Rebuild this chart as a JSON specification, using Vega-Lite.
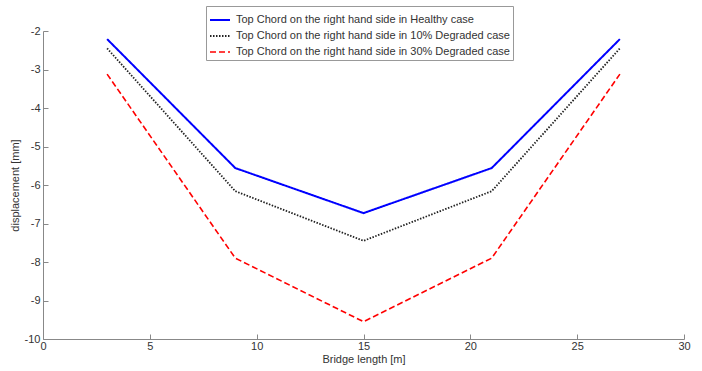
{
  "$schema": "https://vega.github.io/schema/vega-lite/v6.json",
  "autosize": {"type": "none"},
  "width": 641,
  "height": 308,
  "padding": {"left": 43, "top": 31, "right": 18, "bottom": 32},
  "background": "white",
  "config": {
    "font": "Liberation Sans",
    "view": {"stroke": null},
    "axis": {
      "domainColor": "#888888",
      "tickColor": "#888888",
      "labelColor": "#333333",
      "titleColor": "#333333",
      "labelFontSize": 11,
      "titleFontSize": 11,
      "titleFontWeight": "normal",
      "grid": false,
      "tickSize": -5,
      "labelFont": "Liberation Sans",
      "titleFont": "Liberation Sans"
    }
  },
  "data": {
    "values": [
      {"x": 3, "y": -2.21, "case": "Top Chord on the right hand side in Healthy case"},
      {"x": 9, "y": -5.56, "case": "Top Chord on the right hand side in Healthy case"},
      {"x": 15, "y": -6.73, "case": "Top Chord on the right hand side in Healthy case"},
      {"x": 21, "y": -5.56, "case": "Top Chord on the right hand side in Healthy case"},
      {"x": 27, "y": -2.21, "case": "Top Chord on the right hand side in Healthy case"},
      {"x": 3, "y": -2.45, "case": "Top Chord on the right hand side in 10% Degraded case"},
      {"x": 9, "y": -6.16, "case": "Top Chord on the right hand side in 10% Degraded case"},
      {"x": 15, "y": -7.45, "case": "Top Chord on the right hand side in 10% Degraded case"},
      {"x": 21, "y": -6.16, "case": "Top Chord on the right hand side in 10% Degraded case"},
      {"x": 27, "y": -2.45, "case": "Top Chord on the right hand side in 10% Degraded case"},
      {"x": 3, "y": -3.12, "case": "Top Chord on the right hand side in 30% Degraded case"},
      {"x": 9, "y": -7.9, "case": "Top Chord on the right hand side in 30% Degraded case"},
      {"x": 15, "y": -9.55, "case": "Top Chord on the right hand side in 30% Degraded case"},
      {"x": 21, "y": -7.9, "case": "Top Chord on the right hand side in 30% Degraded case"},
      {"x": 27, "y": -3.12, "case": "Top Chord on the right hand side in 30% Degraded case"}
    ]
  },
  "mark": {"type": "line"},
  "encoding": {
    "x": {
      "field": "x", "type": "quantitative",
      "scale": {"domain": [0, 30], "nice": false, "zero": false},
      "axis": {"title": "Bridge length [m]", "values": [0, 5, 10, 15, 20, 25, 30], "labelPadding": 6, "titlePadding": 2, "labelFlush": false}
    },
    "y": {
      "field": "y", "type": "quantitative",
      "scale": {"domain": [-10, -2], "nice": false, "zero": false},
      "axis": {"title": "displacement [mm]", "values": [-10, -9, -8, -7, -6, -5, -4, -3, -2], "labelPadding": 8, "titlePadding": 4, "labelFlush": false, "labelExpr": "replace(datum.label, '−', '-')"}
    },
    "color": {
      "field": "case", "type": "nominal",
      "scale": {
        "domain": ["Top Chord on the right hand side in Healthy case", "Top Chord on the right hand side in 10% Degraded case", "Top Chord on the right hand side in 30% Degraded case"],
        "range": ["#0000ff", "#222222", "#ff0000"]
      },
      "legend": {
        "title": null,
        "orient": "none",
        "legendX": 163,
        "legendY": -25,
        "strokeColor": "#999999",
        "fillColor": "white",
        "padding": 3,
        "symbolType": "stroke",
        "symbolSize": 400,
        "rowPadding": -6,
        "labelFontSize": 11,
        "labelColor": "#333333",
        "labelFont": "Liberation Sans",
        "labelLimit": 400,
        "labelOffset": 5
      }
    },
    "strokeDash": {
      "field": "case", "type": "nominal",
      "scale": {
        "domain": ["Top Chord on the right hand side in Healthy case", "Top Chord on the right hand side in 10% Degraded case", "Top Chord on the right hand side in 30% Degraded case"],
        "range": [[1, 0], [1.5, 1.5], [6, 3]]
      },
      "legend": null
    },
    "strokeWidth": {
      "field": "case", "type": "nominal",
      "scale": {
        "domain": ["Top Chord on the right hand side in Healthy case", "Top Chord on the right hand side in 10% Degraded case", "Top Chord on the right hand side in 30% Degraded case"],
        "range": [2, 1.6, 2]
      },
      "legend": null
    }
  }
}
